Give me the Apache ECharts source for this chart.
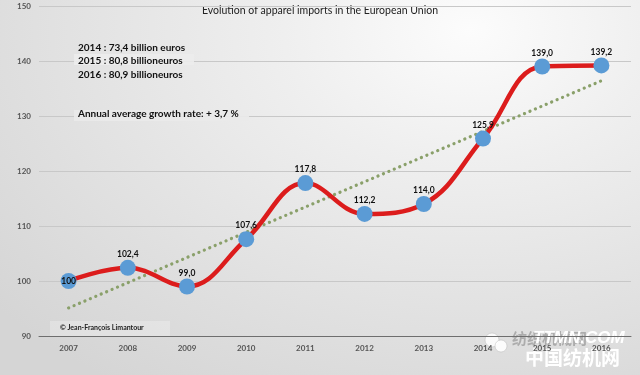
<!DOCTYPE html>
<html>
<head>
<meta charset="utf-8">
<script src="https://cdn.jsdelivr.net/npm/echarts@6/dist/echarts.min.js"></script>
<style>
html,body{margin:0;padding:0;}
#c{width:640px;height:375px;background:radial-gradient(ellipse 620px 430px at 470px 30px,#fcfcfc 0%,#efefef 30%,#e3e3e3 62%,#d5d5d5 100%);}
</style>
</head>
<body>
<div id="c"></div>
<script>
var years = ['2007','2008','2009','2010','2011','2012','2013','2014','2015','2016'];
var imports = [100, 102.4, 99.0, 107.6, 117.8, 112.2, 114.0, 125.9, 139.0, 139.2];
var trendStart = 95.1;
var trendEnd = 136.4;
var yTicks = [90, 100, 110, 120, 130, 140, 150];
var titleText = 'Evolution of apparel imports in the European Union';
var infoLines = ['2014 : 73,4 billion euros', '2015 : 80,8 billioneuros', '2016 : 80,9 billioneuros'];
var growthText = 'Annual average growth rate: + 3,7 %';
var copyrightText = '\u00a9 Jean-Fran\u00e7ois Limantour';

var FONT = 'Lato, "Open Sans", sans-serif';
var trendData = years.map(function(y,i){ return i===0 ? trendStart : (i===years.length-1 ? trendEnd : '-'); });

var chart = echarts.init(document.getElementById('c'), null, {renderer:'canvas'});
chart.setOption({
  animation:false,
  backgroundColor:'transparent',
  grid:{left:39, right:9, top:6, bottom:39},
  xAxis:{
    type:'category', data:years, boundaryGap:true,
    axisLine:{show:true, lineStyle:{color:'#6e6e6e', width:1}},
    axisTick:{show:false},
    axisLabel:{color:'#555', fontSize:8, fontWeight:'bold', fontFamily:FONT, margin:8}
  },
  yAxis:{
    type:'value', min:yTicks[0], max:yTicks[yTicks.length-1], interval:10,
    axisLine:{show:false}, axisTick:{show:false},
    axisLabel:{color:'#555', fontSize:8, fontWeight:'bold', fontFamily:FONT, margin:8},
    splitLine:{lineStyle:{color:'#c8c8c8', width:1}}
  },
  series:[
    {
      type:'line', data:trendData, connectNulls:true, symbol:'none', silent:true,
      lineStyle:{color:'#8aa06a', width:3.2, type:[0.1,5.8], cap:'round'},
      z:2
    },
    {
      type:'line', data:imports.map(function(v,i){
        var d = {value:v};
        if(i===0){ d.label = {position:'inside'}; }
        return d;
      }),
      smooth:0.4,
      symbol:'circle', symbolSize:16,
      itemStyle:{color:'#5b9bd5'},
      lineStyle:{color:'#dc1c1c', width:4.5},
      label:{show:true, position:'top', distance:1, color:'#111', fontSize:8.5, fontWeight:'bold', fontFamily:FONT,
        formatter:function(p){ return p.dataIndex===0 ? String(p.value) : p.value.toFixed(1).replace('.',','); }},
      z:3
    }
  ],
  graphic:[
    {type:'text', left:'center', top:5, style:{text:titleText, fill:'#222', font:'10.5px '+FONT}},
    {type:'rect', shape:{x:74, y:54, width:120, height:11}, style:{fill:'rgba(236,236,236,0.9)'}, z:1},
    {type:'rect', shape:{x:74, y:110, width:175, height:11}, style:{fill:'rgba(234,234,234,0.9)'}, z:1},
    {type:'text', left:78, top:41, z:2, style:{text:infoLines.join('\n'), fill:'#111', font:'bold 10px '+FONT, lineHeight:13.5}},
    {type:'text', left:78, top:109, z:2, style:{text:growthText, fill:'#111', font:'bold 10px '+FONT}},
    {type:'rect', shape:{x:50, y:321, width:120, height:15}, style:{fill:'rgba(255,255,255,0.25)'}},
    {type:'text', left:60, top:324, style:{text:copyrightText, fill:'#222', font:'bold 7px '+FONT}},
    {type:'circle', shape:{cx:492, cy:340, r:7}, style:{fill:'rgba(255,255,255,0.85)', stroke:'#bbb', lineWidth:0.5}},
    {type:'circle', shape:{cx:501, cy:346, r:6}, style:{fill:'rgba(255,255,255,0.9)', stroke:'#bbb', lineWidth:0.5}},
    {type:'text', left:512, top:331, style:{text:'纺织机械网', fill:'rgba(150,150,150,0.7)', font:'bold 15px "Noto Sans CJK SC"'}},
    {type:'text', left:533, top:330, style:{text:'TTMN.COM', fill:'#ffffff', font:'italic bold 17px "Liberation Sans", sans-serif', shadowColor:'rgba(0,0,0,0.6)', shadowBlur:2, shadowOffsetX:1, shadowOffsetY:1}},
    {type:'text', left:525, top:348, style:{text:'中国纺机网', fill:'#ffffff', font:'bold 19px "Noto Sans CJK SC"', shadowColor:'rgba(0,0,0,0.6)', shadowBlur:2, shadowOffsetX:1, shadowOffsetY:1}}
  ]
});
</script>
</body>
</html>
